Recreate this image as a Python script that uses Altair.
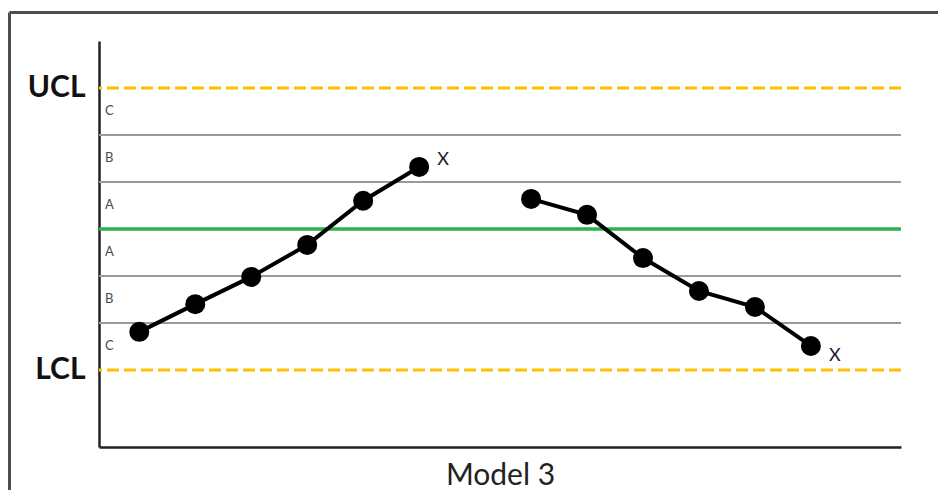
import altair as alt
import pandas as pd

# ---- data (sigma units, centre line = 0) ----
sample = [1, 2, 3, 4, 5, 6, 8, 9, 10, 11, 12, 13]
value = [-2.19, -1.60, -1.02, -0.34, 0.60, 1.32, 0.64, 0.30, -0.62, -1.32, -1.66, -2.49]
run = ["Rise"] * 6 + ["Fall"] * 6

zone_lines = [2, 1, -1, -2]
center_line = [0]
control_limits = [3, -3]
zone_letters = ["C", "B", "A", "A", "B", "C"]
zone_mid = [2.5, 1.5, 0.5, -0.5, -1.5, -2.5]

pts = pd.DataFrame({"sample": sample, "value": value, "run": run})
zones = pd.DataFrame({"value": zone_lines})
center = pd.DataFrame({"value": center_line})
limits = pd.DataFrame({"value": control_limits})
letters = pd.DataFrame({"value": zone_mid, "letter": zone_letters})
flags_rise = pts[pts["run"] == "Rise"].tail(1).assign(flag="X")
flags_fall = pts[pts["run"] == "Fall"].tail(1).assign(flag="X")
frame = pd.DataFrame({"k": [0]})

xs = alt.Scale(domain=[0.28, 14.61], nice=False, zero=False)
ys = alt.Scale(domain=[-4.64, 4.0], nice=False, zero=False)

x_axis = alt.Axis(
    labels=False, ticks=False, grid=False,
    domainColor="#222", domainWidth=2.5,
    title="Model 3", titleFont="Lato", titleFontSize=30,
    titleFontWeight="normal", titleColor="#222",
    titleY=37, titleBaseline="alphabetic",
)
y_axis = alt.Axis(
    values=control_limits,
    labelExpr="datum.value > 0 ? 'UCL' : 'LCL'",
    ticks=False, grid=False,
    domainColor="#222", domainWidth=2.5,
    labelFont="Lato", labelFontWeight="bold", labelFontSize=30,
    labelColor="#111", labelPadding=14, title=None,
)

X = alt.X("sample:Q", scale=xs, axis=x_axis, title="Model 3")
Y = alt.Y("value:Q", scale=ys, axis=y_axis, title=None)

frame_top = alt.Chart(frame).mark_rule(color="#4d4d4d", strokeWidth=3).encode(
    x=alt.value(-89.5), x2=alt.value(900), y=alt.value(-28.5)
)
frame_left = alt.Chart(frame).mark_rule(color="#4d4d4d", strokeWidth=3).encode(
    x=alt.value(-89.5), y=alt.value(-28.5), y2=alt.value(500)
)

zone_rules = alt.Chart(zones).mark_rule(color="#9a9a9a", strokeWidth=2).encode(y=Y)
center_rule = alt.Chart(center).mark_rule(color="#2bb24c", strokeWidth=3.5).encode(y=Y)
limit_rules = alt.Chart(limits).mark_rule(
    color="#ffc000", strokeWidth=3, strokeDash=[12, 5]
).encode(y=Y)

letter_text = alt.Chart(letters).mark_text(
    align="left", baseline="middle", fontSize=13, color="#4a4a4a", font="Lato"
).encode(x=alt.value(6), y=Y, text="letter:N")

line = alt.Chart(pts).mark_line(color="black", strokeWidth=4).encode(
    x=X, y=Y, detail="run:N"
)
points = alt.Chart(pts).mark_point(filled=True, color="black", size=400, opacity=1).encode(
    x=X, y=Y
)
flag1 = alt.Chart(flags_rise).mark_text(
    fontSize=18, color="#1a1a2e", font="Lato", dx=24, dy=-7
).encode(x=X, y=Y, text="flag:N")
flag2 = alt.Chart(flags_fall).mark_text(
    fontSize=18, color="#1a1a2e", font="Lato", dx=24, dy=10
).encode(x=X, y=Y, text="flag:N")

chart = alt.layer(
    frame_top, frame_left, zone_rules, limit_rules, center_rule, letter_text,
    line, points, flag1, flag2,
).properties(
    width=802, height=406,
    background="white",
    autosize=alt.AutoSizeParams(type="none"),
    padding={"left": 91, "top": 33, "right": 37, "bottom": 43},
).configure_view(strokeWidth=0, stroke="transparent")

chart.save("out.html", embed_options={"renderer": "svg", "actions": False})
